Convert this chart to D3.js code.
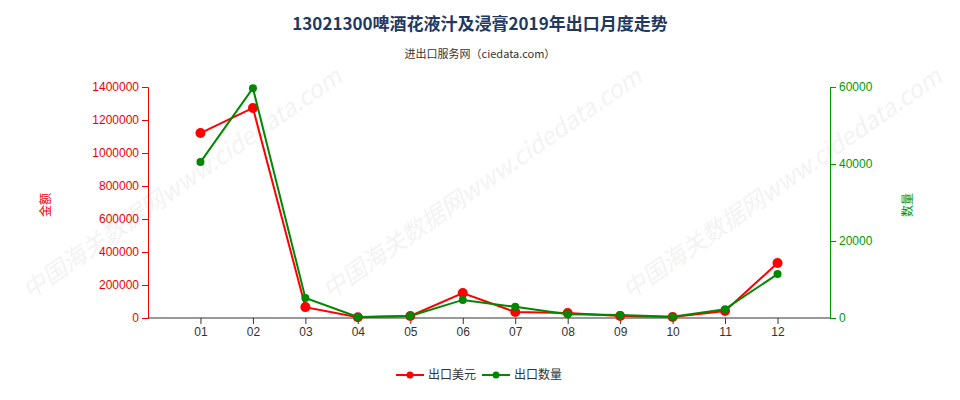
<!DOCTYPE html>
<html><head><meta charset="utf-8">
<script src="https://cdn.jsdelivr.net/npm/d3@7"></script>
<style>body{margin:0;background:#fff}</style>
</head><body>
<svg id="c" width="960" height="400"></svg>
<script>
var months = ['01','02','03','04','05','06','07','08','09','10','11','12'];
var usd = [1121000,1273000,66000,5000,12000,151000,36000,30000,12000,6000,42000,333000];
var qty = [40500,59700,5200,260,500,4700,2900,1000,800,300,2300,11400];
var leftTicks = [0,200000,400000,600000,800000,1000000,1200000,1400000];
var rightTicks = [0,20000,40000,60000];

var svg = d3.select('#c');
var font = '"Noto Sans CJK SC", sans-serif';
var x = d3.scaleLinear().domain([0,13]).range([148,830]);
var yl = d3.scaleLinear().domain([0,1400000]).range([318,87]);
var yr = d3.scaleLinear().domain([0,60000]).range([318,87]);

// watermark
for (var i=0;i<3;i++){
  svg.append('text').attr('transform','translate('+(30+i*300)+',300) rotate(-35)')
    .attr('font-size',24).attr('font-style','italic').attr('font-family',font)
    .attr('fill','#f3f3f3').text('中国海关数据网www.cidedata.com');
}

svg.append('text').attr('x',480).attr('y',30).attr('text-anchor','middle')
  .attr('font-size',17).attr('font-weight','bold').attr('fill','#1f3864').attr('font-family',font)
  .text('13021300啤酒花液汁及浸膏2019年出口月度走势');
svg.append('text').attr('x',480).attr('y',58).attr('text-anchor','middle')
  .attr('font-size',11).attr('fill','#333').attr('font-family',font)
  .text('进出口服务网（ciedata.com）');

var ga = svg.append('g').attr('transform','translate(148,0)')
  .call(d3.axisLeft(yl).tickValues(leftTicks).tickFormat(d3.format('d')));
ga.selectAll('text').attr('fill','#e00').attr('font-size',12);
ga.selectAll('line,path').attr('stroke','#e00');
var gr = svg.append('g').attr('transform','translate(830,0)')
  .call(d3.axisRight(yr).tickValues(rightTicks).tickFormat(d3.format('d')));
gr.selectAll('text').attr('fill','#090').attr('font-size',12);
gr.selectAll('line,path').attr('stroke','#090');
var gx = svg.append('g').attr('transform','translate(0,318)')
  .call(d3.axisBottom(x).tickValues(d3.range(1,13)).tickFormat(function(d){return months[d-1];}));
gx.select('.domain').attr('d','M148,0H830').attr('stroke','#333');
gx.selectAll('line').attr('stroke','#333');
gx.selectAll('text').attr('font-size',12).attr('fill','#333');

svg.append('text').attr('transform','translate(50,205) rotate(-90)').attr('text-anchor','middle')
  .attr('fill','#e00').attr('font-size',12).attr('font-family',font).text('金额');
svg.append('text').attr('transform','translate(912,205) rotate(-90)').attr('text-anchor','middle')
  .attr('fill','#090').attr('font-size',12).attr('font-family',font).text('数量');

function series(vals, y, color, r){
  svg.append('path').datum(vals).attr('fill','none').attr('stroke',color).attr('stroke-width',2)
    .attr('d', d3.line().x(function(d,i){return x(i+1);}).y(function(d){return y(d);}));
  svg.append('g').selectAll('circle').data(vals).enter().append('circle')
    .attr('cx',function(d,i){return x(i+1);}).attr('cy',function(d){return y(d);})
    .attr('r',r).attr('fill',color);
}
series(usd, yl, '#f00', 5);
series(qty, yr, '#080', 4);

// legend
function legend(lx, color, label){
  svg.append('line').attr('x1',lx).attr('x2',lx+28).attr('y1',375).attr('y2',375).attr('stroke',color).attr('stroke-width',2);
  svg.append('circle').attr('cx',lx+14).attr('cy',375).attr('r',3.5).attr('fill',color);
  svg.append('text').attr('x',lx+32).attr('y',379).attr('font-size',12).attr('font-family',font).attr('fill','#333').text(label);
}
legend(396,'#f00','出口美元');
legend(482,'#080','出口数量');
</script>
</body></html>
